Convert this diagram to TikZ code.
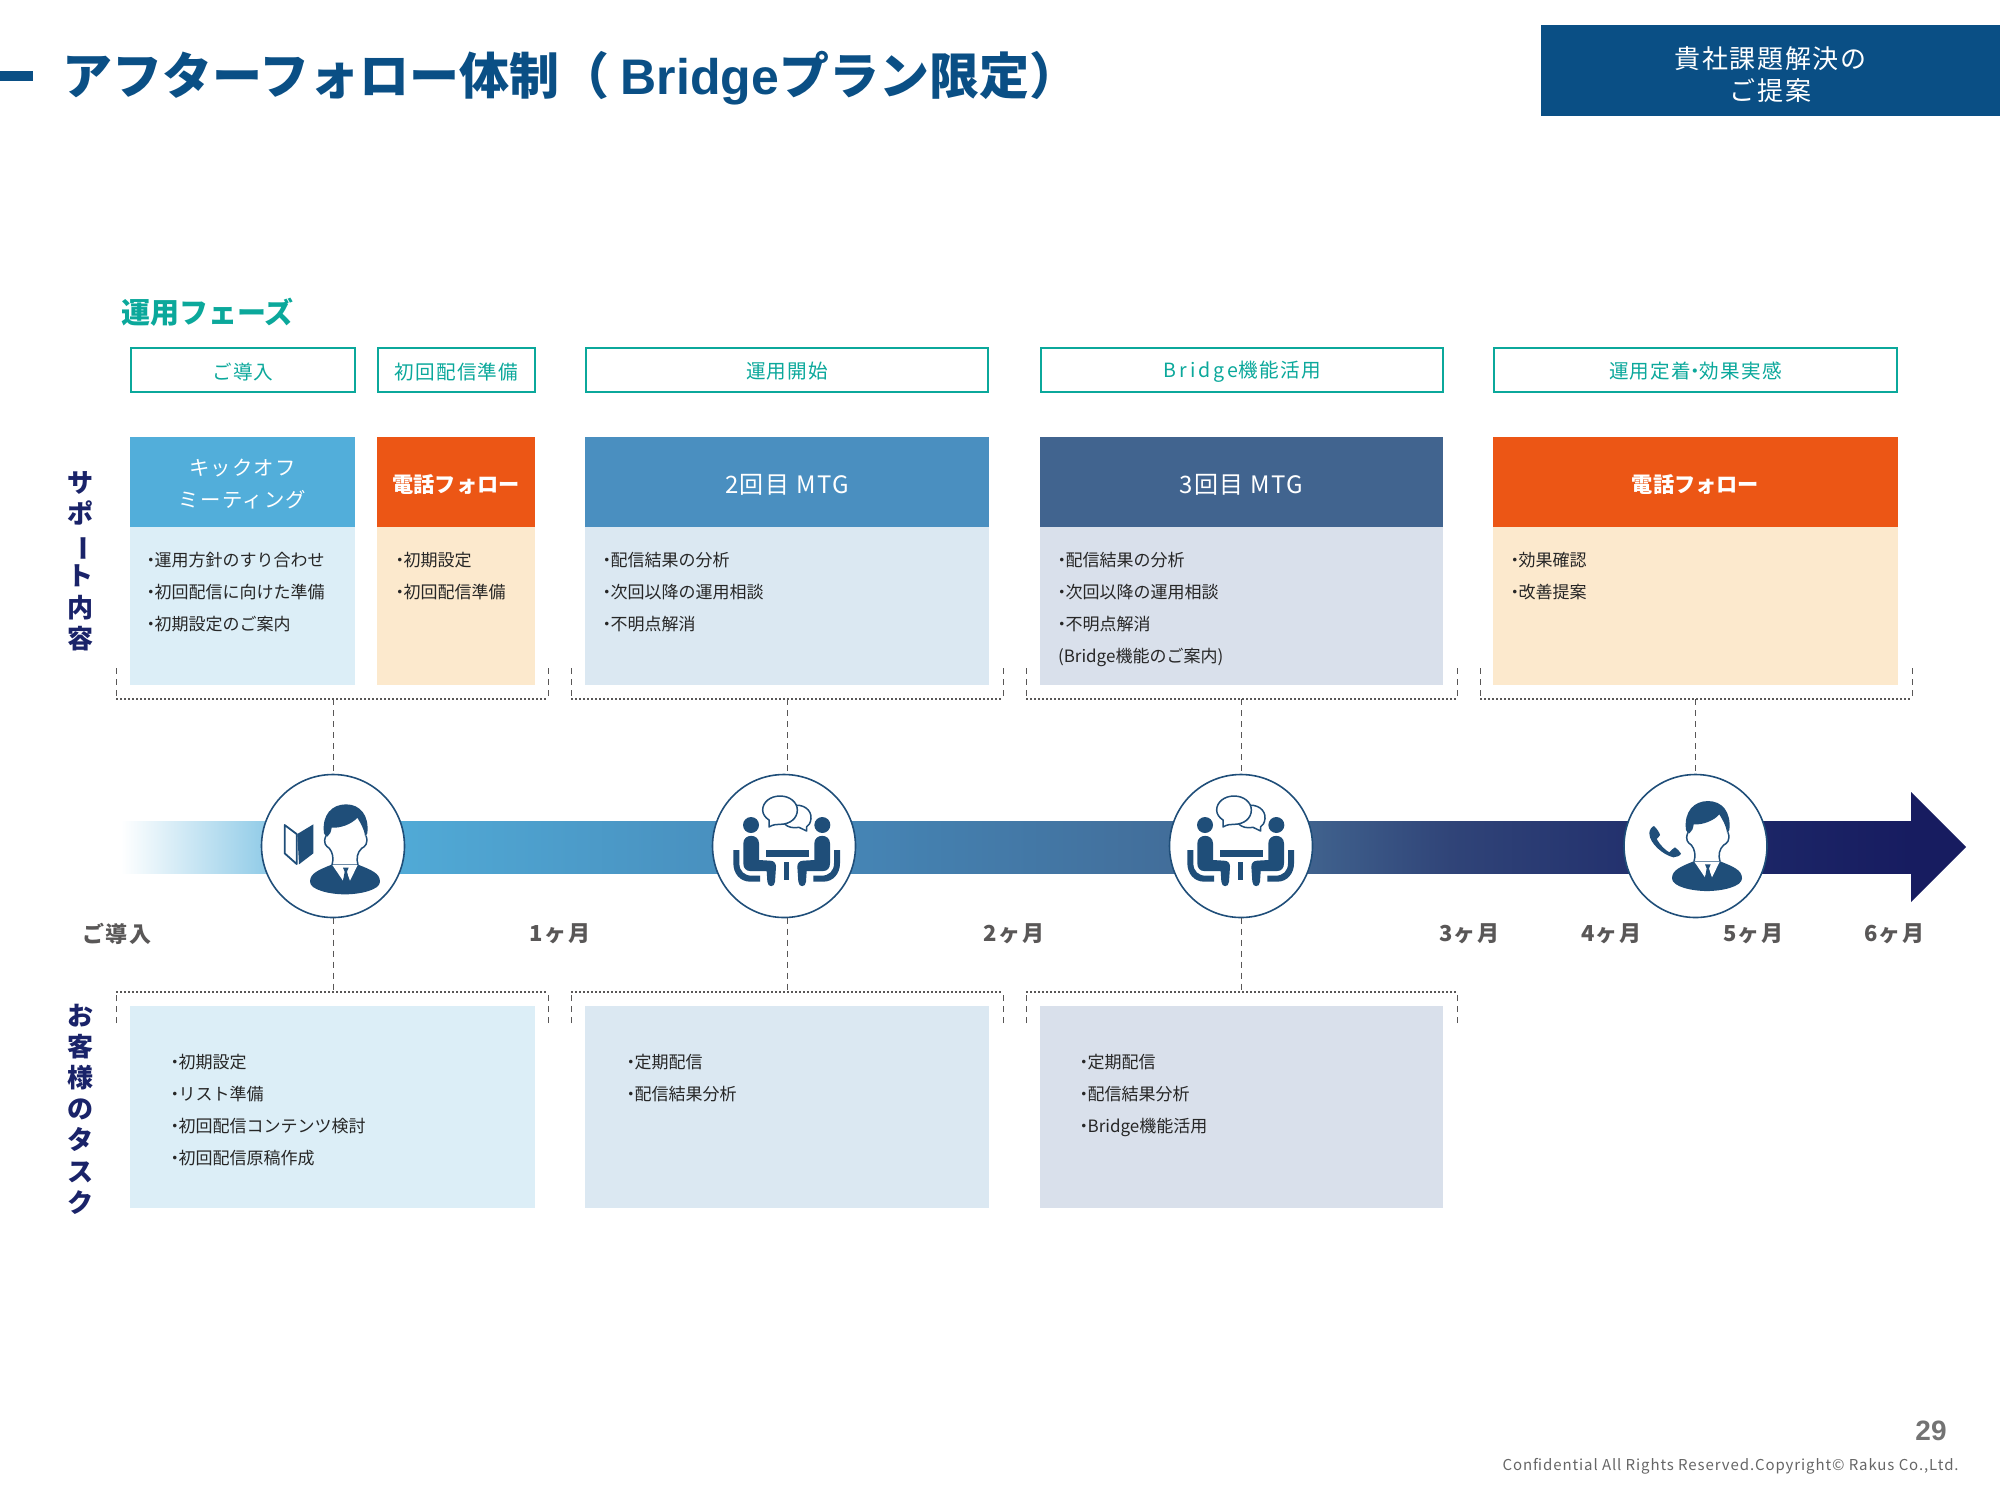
\documentclass[tikz,border=0pt]{standalone}
\usepackage{fontspec}
\usepackage{graphicx}
\setmainfont{Noto Sans CJK JP}
\newfontfamily\lsp[LetterSpace=6]{Noto Sans CJK JP}
\newfontfamily\arl{Liberation Sans}
\definecolor{navyt}{HTML}{0A4F85}
\definecolor{teal1}{HTML}{0BA89B}
\definecolor{rowlab}{HTML}{1A2369}
\definecolor{ic}{HTML}{1F4E79}
\definecolor{dash1}{HTML}{595757}
\definecolor{hKick}{HTML}{52AEDA}
\definecolor{hOrg}{HTML}{EC5615}
\definecolor{hBlue}{HTML}{4A8FC0}
\definecolor{hNavy}{HTML}{41648F}
\definecolor{bKick}{HTML}{DCEEF7}
\definecolor{bOrg}{HTML}{FCE9CD}
\definecolor{bBlue}{HTML}{DBE8F2}
\definecolor{bNavy}{HTML}{D9E0EB}
\definecolor{arr3}{HTML}{4585B5}
\definecolor{arr4}{HTML}{304478}
\definecolor{arr5}{HTML}{1E2A6A}
\definecolor{arr6}{HTML}{171C60}
\tikzset{
  solidbox/.style={inner sep=0pt,outer sep=0pt,text=white,align=center},
  phasebox/.style={inner sep=0pt,outer sep=0pt,draw=teal1,line width=.8pt,fill=white,text=teal1,
    font=\lsp\fontsize{9.8}{12}\selectfont},
  headtxt/.style={font=\lsp\fontsize{10.2}{16}\selectfont},
  headbold/.style={font=\bfseries\fontsize{10.6}{16}\selectfont},
  listtxt/.style={inner sep=0pt,outer sep=0pt,align=left,text=black!85,anchor=north west,
    font=\fontsize{8.5}{15.95}\selectfont},
  monthtxt/.style={inner sep=0pt,text=dash1,font=\lsp\bfseries\fontsize{11}{12}\selectfont},
  rowtxt/.style={inner sep=0pt,text=rowlab,align=center,font=\bfseries\fontsize{13}{15.6}\selectfont},
  hdots/.style={draw=dash1,line width=.6pt,dash pattern=on 1pt off 1pt},
  vdash/.style={draw=dash1,line width=.4pt,dash pattern=on 3pt off 2.5pt},
  iconring/.style={circle,draw=ic,line width=.8pt,fill=white,minimum size=71.5pt,inner sep=0pt,outer sep=0pt},
  icl/.style={draw=ic,line width=.75pt,line join=round}
}
\newcommand\rb[7]{\node[#6,anchor=north west,minimum width={(#4-#2)*.5pt},minimum height={(#5-#3)*.5pt}] (#1) at (#2,#3) {#7};}
\newcommand\dotm{\makebox[.45em][c]{・}}
\newcommand\ph{\rule{0pt}{9.8pt}}
\newcommand\hb{\rule{0pt}{11.5pt}}
\newcommand\hm{\rule{0pt}{12.8pt}}
\newcommand\brk[5]{%
  \coordinate (#1a) at (#2,#4); \coordinate (#1b) at (#2,#5);
  \coordinate (#1c) at (#3,#5); \coordinate (#1d) at (#3,#4);
  \draw[vdash] (#1a) -- (#1b); \draw[vdash] (#1d) -- (#1c);
  \draw[hdots] (#1b) -- (#1c);}
\newcommand\personicon{%
  \fill[ic] (222,205) .. controls (215,150) and (245,118) .. (288,118) .. controls (330,118) and (358,150) .. (352,205) .. controls (350,210) and (347,212) .. (345,213) .. controls (342,190) and (332,175) .. (322,158) .. controls (305,178) and (270,190) .. (245,188) .. controls (243,200) and (240,210) .. (232,215) .. controls (228,214) and (224,210) .. (222,205) -- cycle;
  \draw[icl] (228,212) .. controls (218,235) and (228,243) .. (238,250) .. controls (248,262) and (252,280) .. (246,300);
  \draw[icl] (348,212) .. controls (356,235) and (345,245) .. (335,250) .. controls (322,262) and (318,280) .. (324,300);
  \fill[ic] (180,350) .. controls (180,325) and (205,315) .. (247,298) -- (322,298) .. controls (365,315) and (390,325) .. (390,350) .. controls (390,375) and (330,388) .. (285,388) .. controls (240,388) and (180,375) .. (180,350) -- cycle;
  \fill[white] (247,300) -- (323,300) -- (300,347) -- (288,315) -- (279,347) -- cycle;
  \fill[ic] (279,308) -- (296,308) -- (291,320) -- (297,348) -- (288,352) -- (279,348) -- (284,320) -- cycle;
}
\newcommand\bookicon{%
  \draw[icl,line width=.9pt] (104,180) -- (140,207) -- (140,297) -- (104,265) -- cycle;
  \fill[ic] (142,207) -- (190,178) -- (190,265) -- (147,298) -- cycle;
}
\newcommand\phoneicon{%
  \fill[ic] (118,205) .. controls (118,195) and (125,185) .. (132,183) .. controls (140,190) and (150,205) .. (150,210) .. controls (148,215) and (142,220) .. (140,222) .. controls (150,240) and (165,255) .. (178,262) .. controls (182,258) and (188,250) .. (195,247) .. controls (202,252) and (210,260) .. (213,266) .. controls (210,272) and (200,277) .. (190,277) .. controls (160,270) and (118,235) .. (118,205) -- cycle;
}
\newcommand\sitter{%
  \fill[ic] (138,180) circle (24);
  \fill[ic] (115,235) .. controls (115,205) and (162,205) .. (162,235) -- (162,285) -- (195,287) .. controls (207,287) and (213,295) .. (213,305) -- (210,350) .. controls (209,368) and (188,368) .. (187,350) -- (185,318) -- (135,318) .. controls (122,318) and (115,308) .. (115,295) -- cycle;
  \fill[ic] (85,255) -- (103,255) -- (103,295) .. controls (103,318) and (118,332) .. (140,332) -- (165,332) -- (165,350) -- (135,350) .. controls (105,350) and (85,325) .. (85,295) -- cycle;
}
\newcommand\tableicon{%
  \sitter
  \begin{scope}[cm={-1,0,0,1,(490,0)}]\sitter\end{scope}
  \fill[ic] (183,255) rectangle (313,275);
  \fill[ic] (237,290) rectangle (252,345);
  \draw[icl,fill=white] (262,122) .. controls (295,115) and (320,135) .. (318,160) .. controls (317,175) and (310,182) .. (305,185) -- (305,198) -- (282,187) .. controls (265,190) and (250,187) .. (240,178) -- cycle;
  \draw[icl,fill=white] (225,93) .. controls (255,93) and (277,112) .. (277,135) .. controls (277,160) and (255,178) .. (225,178) .. controls (215,178) and (205,178) .. (192,186) -- (192,165) .. controls (180,157) and (173,147) .. (173,135) .. controls (173,112) and (195,93) .. (225,93) -- cycle;
}
\begin{document}
\begin{tikzpicture}[x=.5pt,y=-.5pt]
\useasboundingbox (0,0) rectangle (2000,1500);
% header
\fill[navyt] (0,71) rectangle (33,81);
\node[inner sep=0pt,anchor=west,text=navyt,font=\bfseries\fontsize{25}{28}\selectfont] (title) at (62,78)
  {アフターフォロー体制（ {\arl Bridge}プラン限定）};
\rb{topbox}{1541}{25}{2000}{116}{solidbox,fill=navyt,font=\lsp\fontsize{13}{16}\selectfont}{\rule{0pt}{14.8pt}貴社課題解決の\\ご提案}
% phases
\node[inner sep=0pt,anchor=west,text=teal1,font=\bfseries\fontsize{14.5}{16}\selectfont] (phase) at (121,312) {運用フェーズ};
\rb{p1}{131}{348}{355}{392}{phasebox}{\ph ご導入}
\rb{p2}{378}{348}{535}{392}{phasebox}{\ph 初回配信準備}
\rb{p3}{586}{348}{988}{392}{phasebox}{\ph 運用開始}
\rb{p4}{1041}{348}{1443}{392}{phasebox}{\ph{\addfontfeature{LetterSpace=16}Bridge}機能活用}
\rb{p5}{1494}{348}{1897}{392}{phasebox}{\ph 運用定着\dotm 効果実感}
% row labels
\node[rowtxt] (row1) at (80,561) {サ\\ポ\\\rotatebox[origin=c]{-90}{ー}\\ト\\内\\容};
\node[rowtxt] (row2) at (80,1109) {お\\客\\様\\の\\タ\\ス\\ク};
% support heads
\rb{h1}{130}{437}{355}{527}{solidbox,fill=hKick,headtxt}{\rule{0pt}{10.6pt}キックオフ\\ミーティング}
\rb{h2}{377}{437}{535}{527}{solidbox,fill=hOrg,headbold}{\hb 電話フォロー}
\rb{h3}{585}{437}{989}{527}{solidbox,fill=hBlue,font=\lsp\fontsize{12}{16}\selectfont}{\hm 2回目 MTG}
\rb{h4}{1040}{437}{1443}{527}{solidbox,fill=hNavy,font=\lsp\fontsize{12}{16}\selectfont}{\hm 3回目 MTG}
\rb{h5}{1493}{437}{1898}{527}{solidbox,fill=hOrg,headbold}{\hb 電話フォロー}
\rb{b1}{130}{527}{355}{685}{solidbox,fill=bKick}{}
\rb{b2}{377}{527}{535}{685}{solidbox,fill=bOrg}{}
\rb{b3}{585}{527}{989}{685}{solidbox,fill=bBlue}{}
\rb{b4}{1040}{527}{1443}{685}{solidbox,fill=bNavy}{}
\rb{b5}{1493}{527}{1898}{685}{solidbox,fill=bOrg}{}
\node[listtxt] (l1) at (147,552.5) {\dotm 運用方針のすり合わせ\\\dotm 初回配信に向けた準備\\\dotm 初期設定のご案内};
\node[listtxt] (l2) at (396,552.5) {\dotm 初期設定\\\dotm 初回配信準備};
\node[listtxt] (l3) at (603,552.5) {\dotm 配信結果の分析\\\dotm 次回以降の運用相談\\\dotm 不明点解消};
\node[listtxt] (l4) at (1058,552.5) {\dotm 配信結果の分析\\\dotm 次回以降の運用相談\\\dotm 不明点解消\\(Bridge機能のご案内)};
\node[listtxt] (l5) at (1511,552.5) {\dotm 効果確認\\\dotm 改善提案};
% task boxes
\rb{t1}{130}{1006}{535}{1208}{solidbox,fill=bKick}{}
\rb{t2}{585}{1006}{989}{1208}{solidbox,fill=bBlue}{}
\rb{t3}{1040}{1006}{1443}{1208}{solidbox,fill=bNavy}{}
\node[listtxt] (l6) at (171,1054.5) {\dotm 初期設定\\\dotm リスト準備\\\dotm 初回配信コンテンツ検討\\\dotm 初回配信原稿作成};
\node[listtxt] (l7) at (627,1054.5) {\dotm 定期配信\\\dotm 配信結果分析};
\node[listtxt] (l8) at (1080,1054.5) {\dotm 定期配信\\\dotm 配信結果分析\\\dotm Bridge機能活用};
% arrow band
\shade[left color=white,right color=hKick] (121,821) rectangle (351,873);
\shade[left color=hKick,right color=arr3] (350,821) rectangle (853,873);
\shade[left color=arr3,right color=hNavy] (852,821) rectangle (1301,873);
\shade[left color=hNavy,right color=arr4] (1300,821) rectangle (1451,873);
\shade[left color=arr4,right color=arr5] (1450,821) rectangle (1696,873);
\shade[left color=arr5,right color=arr6] (1695,821) rectangle (1912,873);
\fill[arr6] (1911,792) -- (1966,847) -- (1911,902) -- cycle;
% circles
\node[iconring] (c1) at (333,846) {};
\node[iconring] (c2) at (784,846) {};
\node[iconring] (c3) at (1241,846) {};
\node[iconring] (c4) at (1695.5,846) {};
\begin{scope}[shift={(250,765)},scale=1/3]\personicon\bookicon\end{scope}
\begin{scope}[shift={(705,765)},scale=1/3]\tableicon\end{scope}
\begin{scope}[shift={(1159,765)},scale=1/3]\tableicon\end{scope}
\begin{scope}[shift={(1612,761.7)},scale=1/3]\personicon\end{scope}
\begin{scope}[shift={(1610,765)},scale=1/3]\phoneicon\end{scope}
% brackets
\brk{u}{116}{548}{668}{699}
\brk{v}{571}{1003}{668}{699}
\brk{w}{1026}{1457}{668}{699}
\brk{x}{1480}{1912}{668}{699}
\brk{r}{116}{548}{1023}{992}
\brk{s}{571}{1003}{1023}{992}
\brk{q}{1026}{1457}{1023}{992}
\coordinate (um) at (333,699); \coordinate (vm) at (787,699); \coordinate (wm) at (1241,699); \coordinate (xm) at (1695.5,699);
\coordinate (rm) at (333,992); \coordinate (sm) at (787,992); \coordinate (qm) at (1241,992);
\draw[vdash] (um) -- (um |- c1.north); \draw[vdash] (vm) -- (vm |- c2.north); \draw[vdash] (wm) -- (wm |- c3.north); \draw[vdash] (xm) -- (xm |- c4.north);
\draw[vdash] (rm |- c1.south) -- (rm); \draw[vdash] (sm |- c2.south) -- (sm); \draw[vdash] (qm |- c3.south) -- (qm);
% months
\node[monthtxt] (m0) at (117,933.5) {ご導入};
\node[monthtxt] (m1) at (560,933.5) {1ヶ月};
\node[monthtxt] (m2) at (1014,933.5) {2ヶ月};
\node[monthtxt] (m3) at (1469,933.5) {3ヶ月};
\node[monthtxt] (m4) at (1611,933.5) {4ヶ月};
\node[monthtxt] (m5) at (1753,933.5) {5ヶ月};
\node[monthtxt] (m6) at (1894,933.5) {6ヶ月};
% footer
\node[inner sep=0pt,text=black!55,font=\arl\bfseries\fontsize{14}{15}\selectfont] (pg) at (1931,1431) {29};
\node[inner sep=0pt,anchor=east,text=black!60,font=\lsp\fontsize{7.5}{10}\selectfont] (foot) at (1959,1466) {Confidential All Rights Reserved.Copyright© Rakus Co.,Ltd.};
\end{tikzpicture}
\end{document}
